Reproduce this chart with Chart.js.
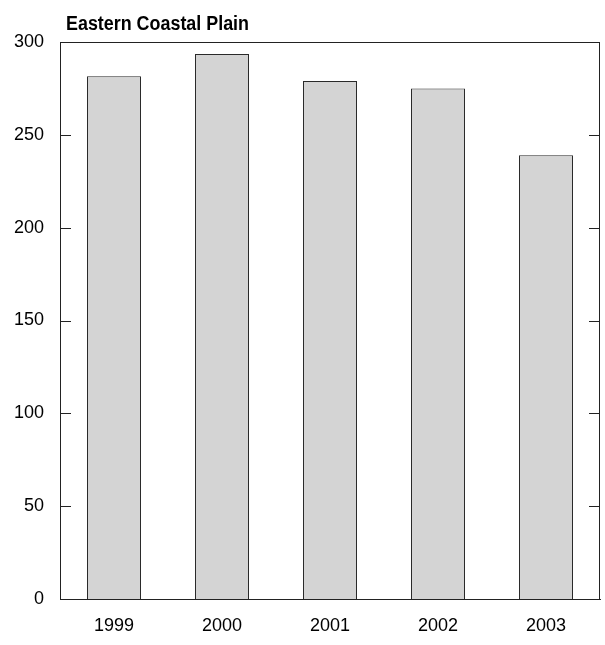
<!DOCTYPE html>
<html>
<head>
<meta charset="utf-8">
<script src="https://cdn.jsdelivr.net/npm/chart.js@4/dist/chart.umd.min.js"></script>
<style>
  html, body { margin: 0; padding: 0; background: #fff; }
  #wrap { width: 605px; height: 645px; }
</style>
</head>
<body>
<div id="wrap"><canvas id="c" width="605" height="645"></canvas></div>
<script>
// Annual values for the Eastern Coastal Plain
const years = ['1999', '2000', '2001', '2002', '2003'];
const values = [281.5, 293.5, 279, 275, 239];
const yTicks = [0, 50, 100, 150, 200, 250, 300];
const chartTitle = 'Eastern Coastal Plain';

const FONT = "'Liberation Sans', Arial, Helvetica, sans-serif";

// Frame around the plot area, short inward tick marks on both sides, and a condensed bold title
const framePlugin = {
  id: 'frame',
  afterDraw(chart) {
    const { ctx, chartArea: a, scales } = chart;
    const y = scales.y;
    ctx.save();
    ctx.strokeStyle = '#222';
    ctx.lineWidth = 1;
    ctx.strokeRect(Math.round(a.left) + 0.5, Math.round(a.top) + 0.5,
                   Math.round(a.right - a.left) - 1, Math.round(a.bottom - a.top));
    ctx.beginPath();
    yTicks.forEach(v => {
      if (v === 0 || v === 300) return;
      const py = Math.round(y.getPixelForValue(v)) + 0.5;
      ctx.moveTo(a.left, py); ctx.lineTo(a.left + 11, py);
      ctx.moveTo(a.right - 11, py); ctx.lineTo(a.right, py);
    });
    ctx.stroke();

    // title: bold sans squeezed horizontally to a condensed width
    ctx.fillStyle = '#000';
    ctx.font = "bold 20px 'Liberation Sans', Arial, sans-serif";
    ctx.textBaseline = 'alphabetic';
    ctx.textAlign = 'left';
    const w = ctx.measureText(chartTitle).width;
    const sx = 183 / w;
    ctx.translate(66, 30);
    ctx.scale(sx, 1);
    ctx.fillText(chartTitle, 0, 0);
    ctx.restore();
  }
};

new Chart(document.getElementById('c'), {
  type: 'bar',
  data: {
    labels: years,
    datasets: [{
      data: values,
      backgroundColor: '#d4d4d4',
      borderColor: '#2a2a2a',
      borderWidth: 1,
      borderSkipped: 'bottom',
      barPercentage: 1,
      categoryPercentage: 0.5
    }]
  },
  options: {
    responsive: false,
    animation: false,
    devicePixelRatio: 1,
    layout: { padding: { top: 42, right: 5, left: 0, bottom: 0 } },
    plugins: { legend: { display: false }, tooltip: { enabled: false }, title: { display: false } },
    scales: {
      x: {
        offset: true,
        grid: { display: false, drawTicks: false },
        border: { display: true, color: '#222' },
        ticks: { color: '#000', font: { family: FONT, size: 18 }, padding: 16, maxRotation: 0 },
        afterFit(s) { s.height = 46; }
      },
      y: {
        min: 0, max: 300,
        afterBuildTicks(s) { s.ticks = yTicks.map(v => ({ value: v })); },
        grid: { display: false, drawTicks: false },
        border: { display: true, color: '#222' },
        ticks: { color: '#000', font: { family: FONT, size: 18 }, padding: 16 },
        afterFit(s) { s.width = 60; }
      }
    }
  },
  plugins: [framePlugin]
});
</script>
</body>
</html>
